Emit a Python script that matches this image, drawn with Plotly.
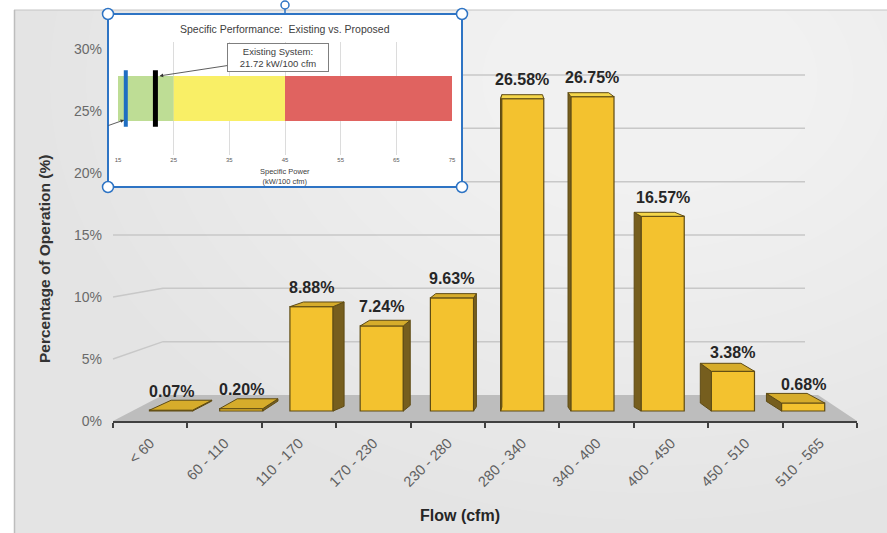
import plotly.graph_objects as go

# ---- data -------------------------------------------------------------
flow_bins = ["< 60", "60 - 110", "110 - 170", "170 - 230", "230 - 280",
             "280 - 340", "340 - 400", "400 - 450", "450 - 510", "510 - 565"]
operation_pct = [0.07, 0.20, 8.88, 7.24, 9.63, 26.58, 26.75, 16.57, 3.38, 0.68]
pct_ticks = [0, 5, 10, 15, 20, 25, 30]

# inset: specific power bands (kW/100 cfm)
zone_edges = [15, 25, 45, 75]
zone_colors = ["#BEDD95", "#F9EF66", "#E06360"]
power_ticks = [15, 25, 35, 45, 55, 65, 75]
existing_kw = 21.72
proposed_kw = 16.4

# ---- page geometry ----------------------------------------------------
W, H = 887, 533
FONT = "Liberation Sans, Arial, sans-serif"


def px(x):
    return x / W


def py(y):
    return 1 - y / H


# main plot area (pixels)
PL, PR, PT, PB = 113, 857, 40, 421
# vertical scales: tick axis (front edge), back wall, bar front plane
TICK_Y0, TICK_PX = 421, 12.4
BACK_Y0, BACK_PX = 395, 10.667
BAR_Y0, BAR_PX = 411, 11.75
BACK_LEFT, BACK_RIGHT, FLOOR_RIGHT = 163, 805, 818
EYE_LEVEL = 15    # columns taller than this show a light top


def axis_range(y0, per):
    return [(y0 - PB) / per, (y0 - PT) / per]


# perspective of the 3-D columns (category units)
VP = 5.0          # vanishing column index
S_FRONT = 0.944   # front plane horizontal scale
S_BACK = 0.889    # back plane horizontal scale
BAR_W = 0.58

n = len(operation_pct)
front_x = [VP + (i - VP) * S_FRONT for i in range(n)]
back_x = [VP + (i - VP) * S_BACK for i in range(n)]
back_w = BAR_W * S_BACK / S_FRONT

GOLD = "#F3C22F"
EDGE = "#5E4B14"
SIDE = "#765E1E"
TOP = "#D6AC2B"
TOP_LIGHT = "#F4D64A"

fig = go.Figure()

# top and side faces of each column
tops = {"low": ([], []), "high": ([], [])}
side_x, side_y = [], []
for i, v in enumerate(operation_pct):
    d = max(4.0, 10 - 0.6 * v) / BAR_PX
    f0, f1 = front_x[i] - BAR_W / 2, front_x[i] + BAR_W / 2
    b0, b1 = back_x[i] - back_w / 2, back_x[i] + back_w / 2
    tx, ty = tops["high" if v > EYE_LEVEL else "low"]
    tx += [f0, f1, b1, b0, f0, None]
    ty += [v, v, v + d, v + d, v, None]
    if i < VP:
        side_x += [f1, f1, b1, b1, f1, None]
    else:
        side_x += [f0, f0, b0, b0, f0, None]
    side_y += [0, v, v + d, d, 0, None]

fig.add_trace(go.Scatter(x=side_x, y=side_y, xaxis="x", yaxis="y3", mode="lines",
                         fill="toself", fillcolor=SIDE, line=dict(color=EDGE, width=1),
                         hoverinfo="skip", showlegend=False))
fig.add_trace(go.Bar(x=front_x, y=operation_pct, width=BAR_W, xaxis="x", yaxis="y3",
                     marker=dict(color=GOLD, line=dict(color=EDGE, width=1.2)),
                     showlegend=False))
for key, col in (("low", TOP), ("high", TOP_LIGHT)):
    tx, ty = tops[key]
    fig.add_trace(go.Scatter(x=tx, y=ty, xaxis="x", yaxis="y3", mode="lines",
                             fill="toself", fillcolor=col, line=dict(color=EDGE, width=1),
                             hoverinfo="skip", showlegend=False))

# carrier trace for the category label axis
fig.add_trace(go.Scatter(x=list(range(n)), y=[None] * n, xaxis="x3", yaxis="y",
                         mode="markers", showlegend=False, hoverinfo="skip"))

# value labels
annotations = []
for i, v in enumerate(operation_pct):
    annotations.append(dict(x=front_x[i], y=v, xref="x", yref="y3", yshift=19,
                            text=f"{v:.2f}%", showarrow=False, xanchor="center", yanchor="middle",
                            font=dict(family=FONT, size=16, color="#262626", weight=700)))

# ---- inset chart ------------------------------------------------------
fig.add_trace(go.Bar(y=[0.5] * 3, x=[zone_edges[k + 1] - zone_edges[k] for k in range(3)],
                     base=zone_edges[:-1], orientation="h", width=0.4,
                     marker=dict(color=zone_colors, line=dict(width=0)),
                     xaxis="x2", yaxis="y4", showlegend=False))
fig.add_trace(go.Scatter(x=[proposed_kw, proposed_kw], y=[0.25, 0.75], mode="lines",
                         line=dict(color="#1F6EC2", width=4), xaxis="x2", yaxis="y4",
                         showlegend=False))
fig.add_trace(go.Scatter(x=[existing_kw, existing_kw], y=[0.25, 0.75], mode="lines",
                         line=dict(color="#000000", width=5), xaxis="x2", yaxis="y4",
                         showlegend=False))


def text_note(x, y, text, size, color="#404040", weight=400, angle=0):
    return dict(x=px(x), y=py(y), xref="paper", yref="paper", showarrow=False,
                xanchor="center", yanchor="middle", textangle=angle, text=text,
                font=dict(family=FONT, size=size, color=color, weight=weight))


annotations += [
    dict(x=existing_kw + 0.75, y=0.70, xref="x2", yref="y4", ax=118, ay=-18,
         text="Existing System:<br>" + f"{existing_kw:.2f} kW/100 cfm",
         showarrow=True, arrowhead=2, arrowsize=0.9, arrowwidth=0.8, arrowcolor="#333",
         font=dict(family=FONT, size=9.5, color="#404040"), bgcolor="white",
         bordercolor="#7F7F7F", borderwidth=1, borderpad=2, width=96, align="center"),
    dict(x=proposed_kw - 0.3, y=0.31, xref="x2", yref="y4", ax=-17, ay=6, text="",
         showarrow=True, arrowhead=2, arrowsize=0.9, arrowwidth=0.8, arrowcolor="#333"),
    text_note(285, 29, "Specific Performance:  Existing vs. Proposed", 10.5),
    text_note(285, 176, "Specific Power<br>(kW/100 cfm)", 7.5),
    text_note(45, 259, "Percentage of Operation (%)", 15.5, "#333333", 700, -90),
    text_note(460, 515, "Flow (cfm)", 16, "#262626", 700),
]

# ---- background, floor, back-wall grid, inset frame -------------------
shapes = [
    dict(type="rect", xref="paper", yref="paper", x0=px(14), x1=px(887), y0=py(533), y1=py(10),
         fillcolor="#E4E4E4", line=dict(width=0), layer="below"),
]
# soft radial highlight
for k in range(14):
    rx, ry = 600 - 36 * k, 440 - 27 * k
    shapes.append(dict(type="circle", xref="paper", yref="paper",
                       x0=px(650 - rx), x1=px(650 + rx), y0=py(80 + ry), y1=py(80 - ry),
                       fillcolor="rgba(255,255,255,0.065)", line=dict(width=0), layer="below"))
# white page outside the chart area
shapes.append(dict(type="rect", xref="paper", yref="paper", x0=0, x1=px(14), y0=0, y1=1,
                   fillcolor="white", line=dict(width=0), layer="below"))
shapes.append(dict(type="rect", xref="paper", yref="paper", x0=0, x1=1, y0=py(10), y1=1,
                   fillcolor="white", line=dict(width=0), layer="below"))
shapes.append(dict(type="line", xref="paper", yref="paper", x0=px(14), x1=px(887),
                   y0=py(10), y1=py(10), line=dict(color="#C4C4C4", width=1), layer="below"))
shapes.append(dict(type="line", xref="paper", yref="paper", x0=px(14.5), x1=px(14.5),
                   y0=py(10), y1=0, line=dict(color="#BDBDBD", width=1.5), layer="below"))

# floor
shapes.append(dict(type="path", xref="paper", yref="paper", layer="below",
                   path=f"M {px(PL)} {py(PB)} L {px(BACK_LEFT)} {py(BACK_Y0)} "
                        f"L {px(FLOOR_RIGHT)} {py(BACK_Y0)} L {px(PR)} {py(PB)} Z",
                   fillcolor="#BDBDBD", line=dict(width=0)))
# gridlines: front tick edge -> back wall
for v in pct_ticks[1:]:
    yf = TICK_Y0 - v * TICK_PX
    yb = BACK_Y0 - v * BACK_PX
    shapes.append(dict(type="path", xref="paper", yref="paper", layer="below",
                       path=f"M {px(PL)} {py(yf)} L {px(BACK_LEFT)} {py(yb)} L {px(BACK_RIGHT)} {py(yb)}",
                       line=dict(color="#C8C8C8", width=1.5)))

# inset panel
IX0, IX1, IY0, IY1 = 108, 462, 14, 187
BLUE = "#2E74C4"
shapes.append(dict(type="rect", xref="paper", yref="paper", layer="below",
                   x0=px(IX0), x1=px(IX1), y0=py(IY1), y1=py(IY0),
                   fillcolor="white", line=dict(width=0)))
shapes.append(dict(type="rect", xref="paper", yref="paper", layer="above",
                   x0=px(IX0), x1=px(IX1), y0=py(IY1), y1=py(IY0),
                   fillcolor="rgba(0,0,0,0)", line=dict(color=BLUE, width=2)))
for cx, cy in [(IX0, IY0), (IX1, IY0), (IX0, IY1), (IX1, IY1)]:
    shapes.append(dict(type="circle", xref="paper", yref="paper", layer="above",
                       x0=px(cx - 5.5), x1=px(cx + 5.5), y0=py(cy + 5.5), y1=py(cy - 5.5),
                       fillcolor="white", line=dict(color=BLUE, width=1.5)))
shapes.append(dict(type="line", xref="paper", yref="paper", layer="above",
                   x0=px(285), x1=px(285), y0=py(14), y1=py(8), line=dict(color=BLUE, width=1.5)))
shapes.append(dict(type="circle", xref="paper", yref="paper", layer="above",
                   x0=px(281), x1=px(289), y0=py(9), y1=py(1),
                   fillcolor="white", line=dict(color=BLUE, width=1.5)))

fig.update_layout(
    template="none",
    width=W, height=H, margin=dict(l=0, r=0, t=0, b=0, pad=0, autoexpand=False),
    paper_bgcolor="white", plot_bgcolor="rgba(0,0,0,0)",
    font=dict(family=FONT), showlegend=False,
    shapes=shapes, annotations=annotations,
    xaxis=dict(domain=[px(PL), px(PR)], range=[-0.5, n - 0.5], anchor="y", automargin=False,
               tickvals=[k - 0.5 for k in range(n + 1)], showticklabels=False,
               ticks="outside", ticklen=5, tickwidth=1.5, tickcolor="#404040",
               showline=True, linecolor="#404040", linewidth=1.5,
               showgrid=False, zeroline=False, fixedrange=True),
    xaxis3=dict(overlaying="x", range=[-0.5, n - 0.5], anchor="y", side="bottom", automargin=False,
                tickvals=list(range(n)), ticktext=flow_bins, tickangle=-45, ticks="",
                ticklabelstandoff=10, tickfont=dict(family=FONT, size=14.5, color="#606060"),
                showline=False, showgrid=False, zeroline=False),
    yaxis=dict(domain=[py(PB), py(PT)], range=axis_range(TICK_Y0, TICK_PX), anchor="x",
               automargin=False,
               tickvals=pct_ticks, ticktext=[f"{v}%" for v in pct_ticks], ticks="",
               ticklabelstandoff=10, tickfont=dict(family=FONT, size=14, color="#6A6A6A"),
               showgrid=False, zeroline=False, showline=False),
    yaxis3=dict(overlaying="y", anchor="x", range=axis_range(BAR_Y0, BAR_PX), visible=False,
                automargin=False),
    xaxis2=dict(domain=[px(118), px(452)], range=[15, 75], anchor="y4", automargin=False,
                tickvals=power_ticks, ticks="", tickfont=dict(family=FONT, size=6, color="#595959"),
                showgrid=True, gridcolor="#DCDCDC", gridwidth=1, zeroline=False, showline=False),
    yaxis4=dict(domain=[py(155), py(42)], range=[0, 1], anchor="x2", visible=False,
                automargin=False),
)

fig.write_html("out.html")
